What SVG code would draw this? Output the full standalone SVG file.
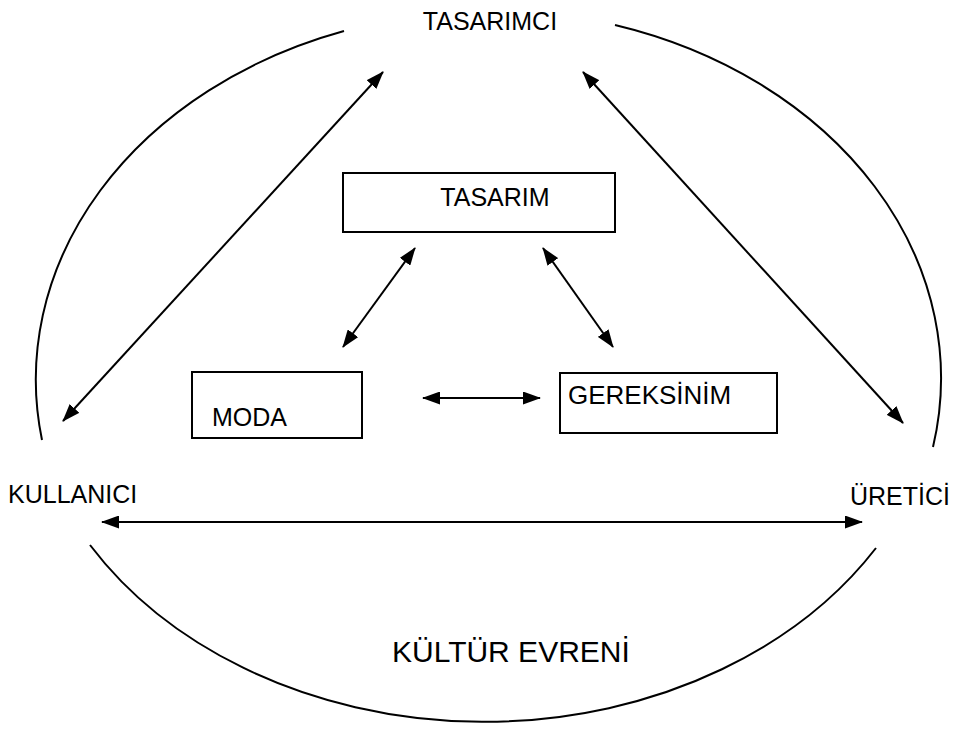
<svg xmlns="http://www.w3.org/2000/svg" width="953" height="751" viewBox="0 0 953 751">
<defs>
<style>
.t{font-family:"Liberation Sans",Arial,sans-serif;font-size:25px;fill:#000}
.arc{fill:none;stroke:#000;stroke-width:2}
.box{fill:#fff;stroke:#000;stroke-width:2}
.c{fill:none;stroke:#000;stroke-width:2;marker-start:url(#ah);marker-end:url(#ah)}
</style>
<marker id="ah" viewBox="0 0 18 13" refX="17" refY="6.5" markerWidth="18" markerHeight="13" markerUnits="userSpaceOnUse" orient="auto-start-reverse">
<path d="M0,0 L18,6.5 L0,13 Z" fill="#000"/>
</marker>
</defs>
<g id="universe">
<path class="arc" d="M344,31 A454,368 0 0,0 42,440"/>
<path class="arc" d="M615,25 A454,368 0 0,1 933,447"/>
<path class="arc" d="M90,545 A460,365 0 0,0 876,548"/>
</g>
<g id="connectors">
<line class="c" x1="63" y1="421" x2="383" y2="72"/>
<line class="c" x1="583" y1="72" x2="903" y2="423"/>
<line class="c" x1="102" y1="522" x2="862" y2="522"/>
<line class="c" x1="415" y1="248" x2="343" y2="347"/>
<line class="c" x1="543" y1="248" x2="613" y2="347"/>
<line class="c" x1="423" y1="398" x2="540" y2="398"/>
</g>
<g id="tasarimci"><text class="t" x="490" y="30" text-anchor="middle">TASARIMCI</text></g>
<g id="kullanici"><text class="t" x="8" y="503">KULLANICI</text></g>
<g id="uretici"><text class="t" x="850" y="505">ÜRETİCİ</text></g>
<g id="tasarim"><rect class="box" x="343" y="173" width="272" height="59"/><text class="t" x="495" y="206" text-anchor="middle">TASARIM</text></g>
<g id="moda"><rect class="box" x="192" y="372" width="170" height="66"/><text class="t" x="212" y="426">MODA</text></g>
<g id="gereksinim"><rect class="box" x="560" y="373" width="217" height="60"/><text class="t" x="568" y="404" style="font-size:26px">GEREKSİNİM</text></g>
<g id="kultur"><text class="t" x="392" y="662" style="font-size:30px">KÜLTÜR EVRENİ</text></g>
</svg>
